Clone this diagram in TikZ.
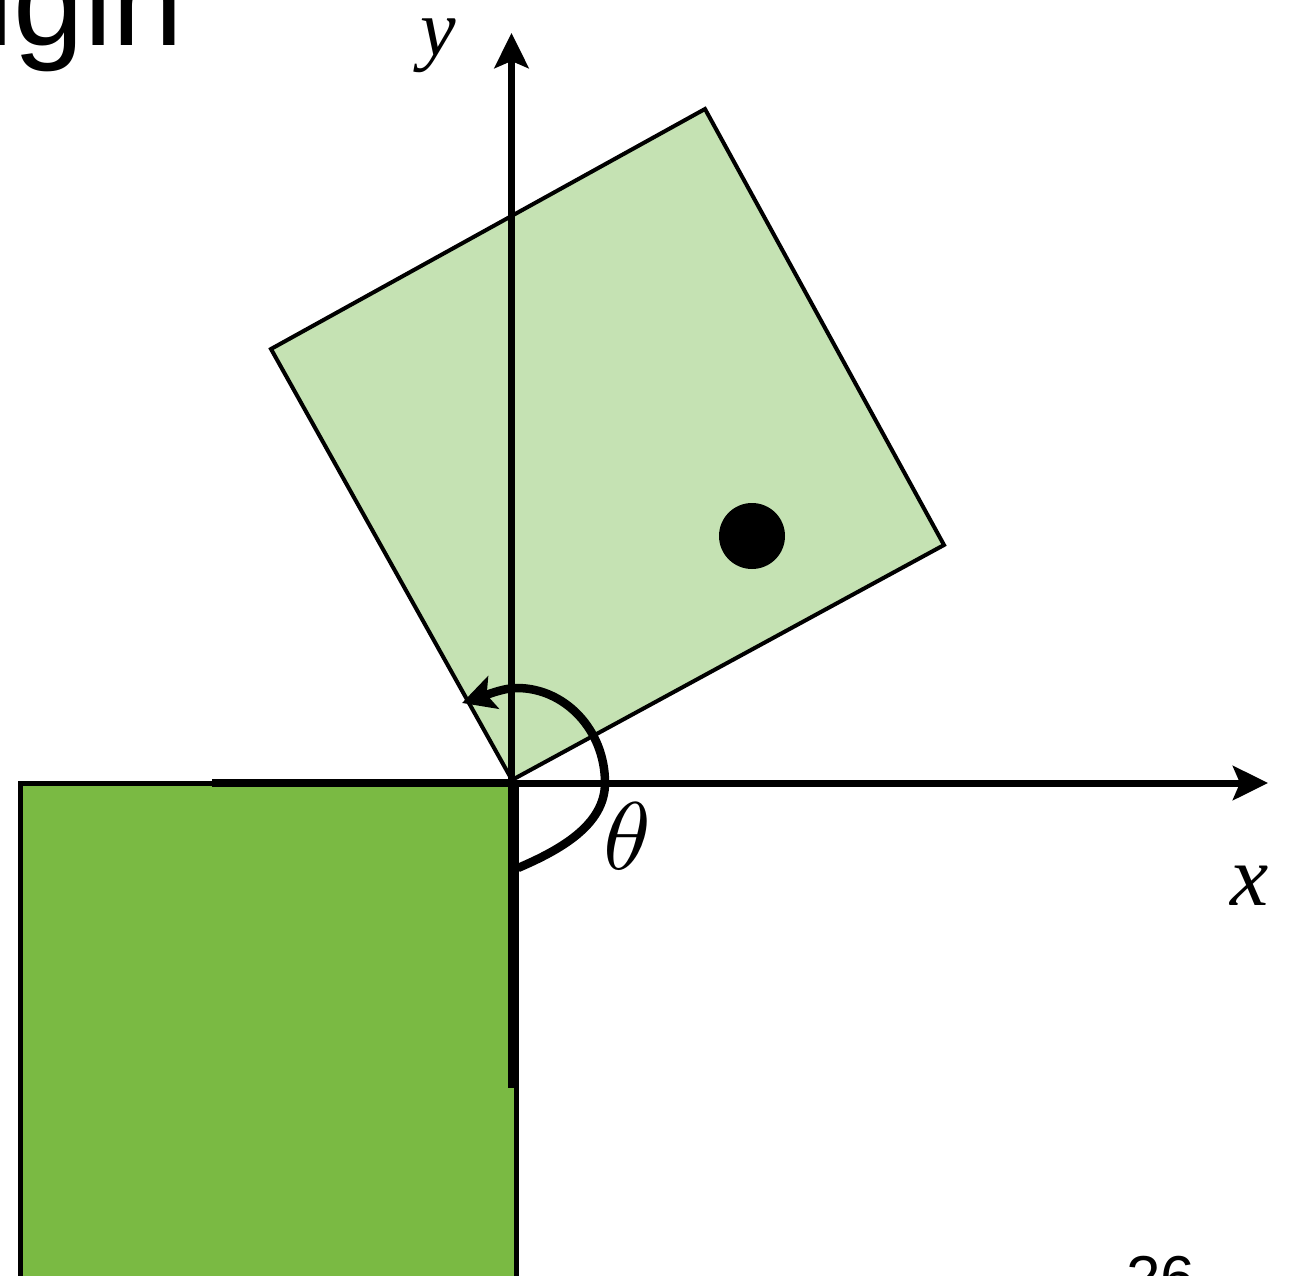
\documentclass[tikz,border=0pt]{standalone}
\usepackage{fontspec}
\setmainfont{Liberation Serif}
\newfontfamily\arialf{Liberation Sans}
\usetikzlibrary{arrows.meta}
\definecolor{dkgreen}{HTML}{7ABA43}
\definecolor{ltgreen}{HTML}{C5E2B3}
\tikzset{
  axis/.style={line width=7pt,-{Stealth[length=35pt,width=34pt,inset=7pt]}},
  anglearc/.style={line width=8.5pt,-{Stealth[length=33pt,width=34pt,inset=7pt]}},
  lbl/.style={inner sep=0pt},
}
\begin{document}
\begin{tikzpicture}[x=1pt,y=-1pt]
\useasboundingbox (0,0) rectangle (1293,1276);
\clip (0,0) rectangle (1293,1276);
% base block
\draw[line width=5pt,fill=dkgreen] (20,783) rectangle (516,1310);
% rotated block
\draw[line width=4pt,fill=ltgreen,line join=miter] (512,780) -- (944,545) -- (705,109) -- (271,349) -- cycle;
% center of mass
\fill (752,536) circle[radius=33];
% named points
\coordinate (O) at (512,783);
\coordinate (xend) at (1268,783);
\coordinate (yend) at (511.5,33);
\coordinate (hstart) at (212,783);
\coordinate (vend) at (513,1088);
\coordinate (vtop) at (513,783);
% axes
\draw[axis] (O) -- (xend);
\draw[axis] (511.5,783) -- (yend);
% thick contact edges
\draw[line width=8.5pt] (hstart) -- (O);
\draw[line width=11pt] (vtop) -- (vend);
% angle arc
\draw[anglearc] (518,868) .. controls (560,850) and (605,825) .. (605,783)
  .. controls (605,730) and (565,688) .. (517,688)
  .. controls (505,688) and (492,693) .. (462,703);
% labels
\node[lbl] (ylab) at (438,46) {\fontsize{80}{80}\selectfont\itshape y};
\node[lbl] (xlab) at (1250,886) {\fontsize{86}{86}\selectfont\itshape x};
\node[lbl,scale=9.6] (th) at (627,836) {$\theta$};
\node[lbl,anchor=base west] (title) at (-15,46) {\arialf\fontsize{127}{127}\selectfont igin};
\node[lbl,anchor=base west] (pg) at (1126,1299) {\arialf\fontsize{62}{62}\selectfont 26};
\end{tikzpicture}
\end{document}
